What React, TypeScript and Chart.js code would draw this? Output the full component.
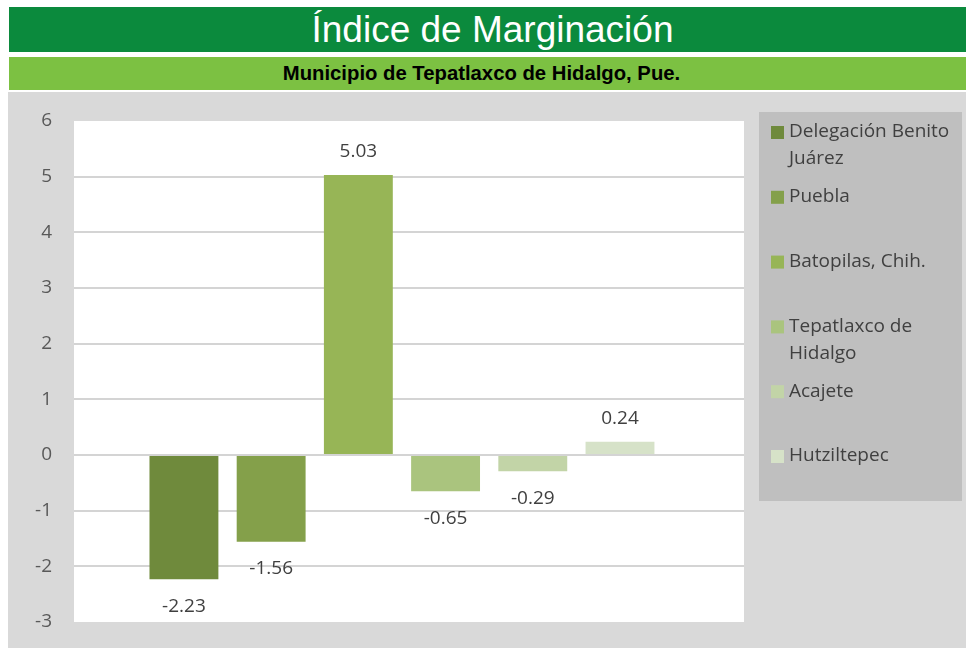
import React, { useEffect, useRef } from 'react';
import Chart from 'chart.js/auto';

const TITLE = 'Índice de Marginación';
const SUBTITLE = 'Municipio de Tepatlaxco de Hidalgo, Pue.';
const seriesNames = [
  'Delegación Benito Juárez',
  'Puebla',
  'Batopilas, Chih.',
  'Tepatlaxco de Hidalgo',
  'Acajete',
  'Hutziltepec',
];
const legendLines = [
  ['Delegación Benito', 'Juárez'],
  ['Puebla'],
  ['Batopilas, Chih.'],
  ['Tepatlaxco de', 'Hidalgo'],
  ['Acajete'],
  ['Hutziltepec'],
];
const values = [-2.23, -1.56, 5.03, -0.65, -0.29, 0.24];
const valueLabels = ['-2.23', '-1.56', '5.03', '-0.65', '-0.29', '0.24'];
const barColors = ['#6f8a3c', '#84a04a', '#97b556', '#aac47e', '#c2d4a7', '#d6e2c8'];
const yMin = -3;
const yMax = 6;
const yStep = 1;
// the single group sits slightly left of the plot centre
const groupX = 0;
const xMin = -0.479;
const xMax = 0.521;

const FONT = '"Open Sans", "DejaVu Sans", sans-serif';

const plotBg = {
  id: 'plotBg',
  beforeDraw(chart: any) {
    const { ctx, chartArea } = chart;
    ctx.save();
    ctx.fillStyle = '#ffffff';
    ctx.fillRect(chartArea.left, chartArea.top, chartArea.right - chartArea.left, chartArea.bottom - chartArea.top);
    ctx.restore();
  },
};

const dataLabels = {
  id: 'dataLabels',
  afterDatasetsDraw(chart: any) {
    const { ctx } = chart;
    ctx.save();
    ctx.font = `19px ${FONT}`;
    ctx.fillStyle = '#404040';
    ctx.textAlign = 'center';
    ctx.textBaseline = 'middle';
    chart.data.datasets.forEach((ds: any, i: number) => {
      const meta = chart.getDatasetMeta(i);
      const el = meta.data[0];
      if (!el) return;
      const v = ds.data[0].y;
      const y = v >= 0 ? el.y - 23 : el.y + 27;
      ctx.fillText(valueLabels[i], el.x, y);
    });
    ctx.restore();
  },
};

const sideLegend = {
  id: 'sideLegend',
  afterDraw(chart: any) {
    const { ctx } = chart;
    const bx = 751;
    const by = 20;
    const bw = 203;
    const bh = 389;
    ctx.save();
    ctx.fillStyle = '#bfbfbf';
    ctx.fillRect(bx, by, bw, bh);
    ctx.font = `19px ${FONT}`;
    ctx.textBaseline = 'middle';
    ctx.textAlign = 'left';
    chart.data.datasets.forEach((ds: any, i: number) => {
      const cy = by + 20 + i * 64.8;
      ctx.fillStyle = ds.backgroundColor;
      ctx.fillRect(bx + 12, cy - 6, 13, 13);
      ctx.fillStyle = '#404040';
      legendLines[i].forEach((line, j) => {
        ctx.fillText(line, bx + 30, cy + j * 27);
      });
    });
    ctx.restore();
  },
};

export default function App() {
  const canvasRef = useRef<HTMLCanvasElement | null>(null);

  useEffect(() => {
    if (!canvasRef.current) return;
    const chart = new Chart(canvasRef.current, {
      type: 'bar',
      data: {
        datasets: seriesNames.map((name, i) => ({
          label: name,
          data: [{ x: groupX, y: values[i] }],
          backgroundColor: barColors[i],
          borderWidth: 0,
          categoryPercentage: 0.781,
          barPercentage: 0.79,
        })),
      },
      options: {
        animation: false,
        responsive: false,
        devicePixelRatio: 1,
        events: [],
        layout: { padding: { left: 0, right: 222, top: 29, bottom: 26 } },
        plugins: {
          legend: { display: false },
          tooltip: { enabled: false },
          title: { display: false },
        },
        scales: {
          x: {
            type: 'linear',
            display: false,
            min: xMin,
            max: xMax,
            afterBuildTicks(scale: any) {
              scale.ticks = [{ value: groupX }];
            },
          },
          y: {
            min: yMin,
            max: yMax,
            afterFit(scale: any) {
              scale.width = 66;
            },
            ticks: {
              stepSize: yStep,
              padding: 3,
              color: '#595959',
              font: { family: FONT, size: 19 },
            },
            grid: {
              drawTicks: true,
              tickLength: 19,
              tickColor: 'rgba(0,0,0,0)',
              lineWidth: 2,
              color: (c: any) =>
                c.tick && (c.tick.value === yMax || c.tick.value === yMin) ? 'rgba(0,0,0,0)' : '#d4d4d4',
            },
            border: { display: false },
          },
        },
      },
      plugins: [plotBg, dataLabels, sideLegend],
    } as any);
    return () => chart.destroy();
  }, []);

  return (
    <div style={{ position: 'absolute', left: 0, top: 0, width: 966, height: 648, background: '#ffffff', overflow: 'hidden' }}>
      <div
        style={{
          position: 'absolute',
          left: 9,
          top: 7,
          width: 957,
          height: 45,
          background: '#0b8a3d',
          color: '#ffffff',
          fontFamily: '"Liberation Sans", Arial, sans-serif',
          fontSize: 37,
          lineHeight: '46px',
          textAlign: 'center',
          paddingLeft: 10,
          boxSizing: 'border-box',
        }}
      >
        {TITLE}
      </div>
      <div
        style={{
          position: 'absolute',
          left: 9,
          top: 57,
          width: 957,
          height: 33,
          background: '#7cc142',
          color: '#000000',
          fontFamily: '"Liberation Sans", Arial, sans-serif',
          fontWeight: 'bold',
          fontSize: 20.3,
          lineHeight: '33px',
          textAlign: 'center',
          paddingRight: 12,
          boxSizing: 'border-box',
        }}
      >
        {SUBTITLE}
      </div>
      <div style={{ position: 'absolute', left: 8, top: 92, width: 958, height: 556, background: '#d9d9d9' }}>
        <canvas ref={canvasRef} width={958} height={556} style={{ display: 'block', width: 958, height: 556 }} />
      </div>
    </div>
  );
}
